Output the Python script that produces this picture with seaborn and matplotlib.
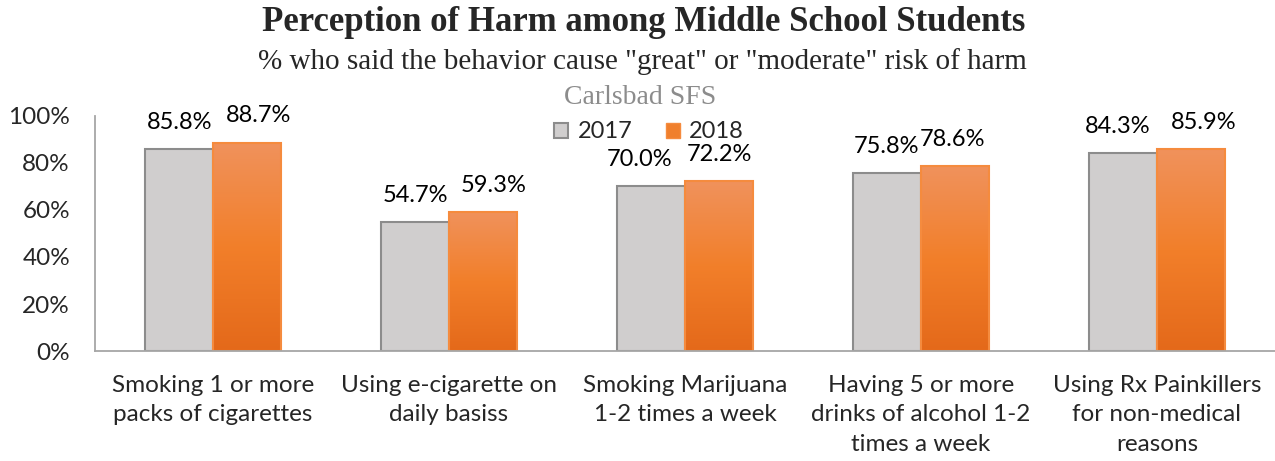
import numpy as np
import pandas as pd
import matplotlib
matplotlib.use("Agg")
import matplotlib.pyplot as plt
from matplotlib.colors import LinearSegmentedColormap
from matplotlib.patches import Patch
import seaborn as sns

# ---- data ----
categories = [
    "Smoking 1 or more\npacks of cigarettes",
    "Using e-cigarette on\ndaily basiss",
    "Smoking Marijuana\n1-2 times a week",
    "Having 5 or more\ndrinks of alcohol 1-2\ntimes a week",
    "Using Rx Painkillers\nfor non-medical\nreasons",
]
years = ["2017", "2018"]
values_2017 = [85.8, 54.7, 70.0, 75.8, 84.3]
values_2018 = [88.7, 59.3, 72.2, 78.6, 85.9]
y_ticks = [0, 20, 40, 60, 80, 100]

# horizontal nudges (points) for value labels so neighbours don't collide
nudge_2017 = [0.5, 0, -8, -0.5, -3.5]
nudge_2018 = [8.5, 8, 0.5, -1.5, 9]

df = pd.DataFrame({
    "category": categories * 2,
    "year": [years[0]] * len(categories) + [years[1]] * len(categories),
    "value": values_2017 + values_2018,
})

sns.set_style("white")
plt.rcParams["font.family"] = ["Lato", "DejaVu Sans"]

GRAY_FILL = "#D0CECE"
GRAY_EDGE = "#8C8C8C"
ORANGE_FILL = "#F07F2C"
ORANGE_EDGE = "#F58B3E"
AXIS_COLOR = "#A6A6A6"

fig = plt.figure(figsize=(12.75, 4.61), dpi=100)
ax = fig.add_axes([0.0745, 0.2386, 0.9255, 0.5098])

sns.barplot(
    data=df, x="category", y="value", hue="year", hue_order=years,
    order=categories, palette=[GRAY_FILL, ORANGE_FILL], width=0.576,
    dodge=True, ax=ax, errorbar=None, legend=False,
)

# style bars; orange bars get a vertical light-to-dark gradient
grad_cmap = LinearSegmentedColormap.from_list(
    "orange_grad", ["#E4691A", "#F27F2A", "#F0925C"])
grad = np.linspace(0, 1, 256).reshape(-1, 1)
n = len(categories)
bars = ax.patches[: 2 * n]
for i, bar in enumerate(bars):
    if i < n:
        bar.set_facecolor(GRAY_FILL)
        bar.set_edgecolor(GRAY_EDGE)
        bar.set_linewidth(1.5)
    else:
        x0, y0 = bar.get_x(), bar.get_y()
        w, h = bar.get_width(), bar.get_height()
        im = ax.imshow(grad, cmap=grad_cmap, origin="lower", aspect="auto",
                       extent=[x0, x0 + w, y0, y0 + h], zorder=bar.get_zorder())
        im.set_clip_path(bar)
        bar.set_facecolor("none")
        bar.set_edgecolor(ORANGE_EDGE)
        bar.set_linewidth(1.5)
        bar.set_zorder(bar.get_zorder() + 0.1)

ax.set_xlim(-0.5, n - 0.5)
ax.set_ylim(0, 100)

# value labels
for bar, val, dx in zip(bars, values_2017 + values_2018, nudge_2017 + nudge_2018):
    ax.annotate(f"{val:.1f}%", (bar.get_x() + bar.get_width() / 2, bar.get_height()),
                xytext=(dx, 14.5), textcoords="offset points",
                ha="center", va="baseline", fontsize=17, color="#000000")

# axes styling
sns.despine(ax=ax, top=True, right=True)
for side in ("left", "bottom"):
    ax.spines[side].set_color(AXIS_COLOR)
    ax.spines[side].set_linewidth(1.3)

ax.set_yticks(y_ticks)
ax.set_yticklabels([f"{t}%" for t in y_ticks])
ax.tick_params(axis="y", which="major", direction="out", length=6,
               width=1.3, color=AXIS_COLOR, labelsize=17.5, pad=12)
ax.set_xticks(range(n))
ax.set_xticklabels(categories, fontsize=17.5, linespacing=1.52)
ax.tick_params(axis="x", which="major", length=0, pad=17)
ax.set_xticks([i + 0.5 for i in range(n - 1)], minor=True)
ax.tick_params(axis="x", which="minor", direction="out", length=6,
               width=1.3, color=AXIS_COLOR)
ax.set_xlabel("")
ax.set_ylabel("")

# legend
handles = [Patch(facecolor=GRAY_FILL, edgecolor=GRAY_EDGE, linewidth=1.5),
           Patch(facecolor=ORANGE_FILL, edgecolor=ORANGE_EDGE, linewidth=1.0)]
leg = fig.legend(handles, years, loc="center", bbox_to_anchor=(0.509, 0.714),
                 ncol=2, frameon=False, fontsize=17, handlelength=0.6,
                 handleheight=0.6, handletextpad=0.4, columnspacing=1.4,
                 borderpad=0)

# titles
serif = ["Liberation Serif", "DejaVu Serif"]
fig.text(0.505, 0.952, "Perception of Harm among Middle School Students",
         ha="center", va="center", fontsize=25, fontweight="bold", family=serif)
fig.text(0.504, 0.866, '% who said the behavior cause "great" or "moderate" risk of harm',
         ha="center", va="center", fontsize=21, family=serif)
fig.text(0.502, 0.789, "Carlsbad SFS", ha="center", va="center",
         fontsize=20, color="#8C8C8C", family=serif)

fig.savefig("out.png", dpi=100)
